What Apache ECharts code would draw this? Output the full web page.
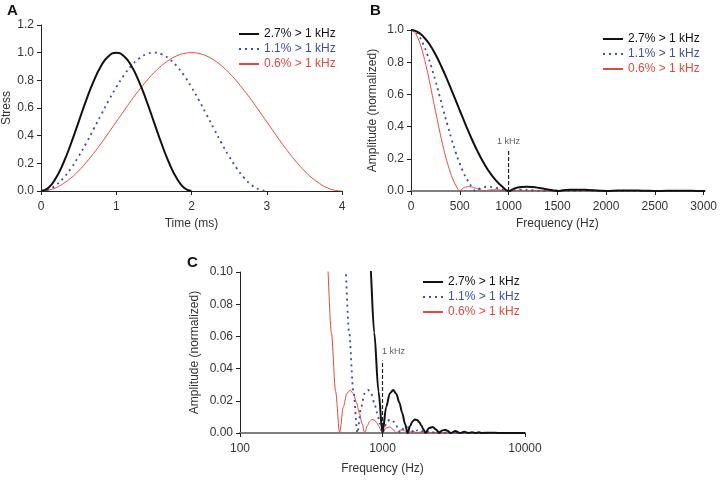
<!DOCTYPE html>
<html>
<head>
<meta charset="utf-8">
<script src="https://cdn.jsdelivr.net/npm/echarts@6/dist/echarts.min.js"></script>
<style>html,body{margin:0;padding:0;background:#fff}#c{width:720px;height:480px}</style>
</head>
<body>
<div id="c"></div>
<script>
// ---- Panel A: stress pulses ----
const timeMs = [0,0.1,0.2,0.3,0.4,0.5,0.6,0.7,0.8,0.9,1.0,1.1,1.2,1.3,1.4,1.5,1.6,1.7,1.8,1.9,2.0,
  2.1,2.2,2.3,2.4,2.5,2.6,2.7,2.8,2.9,3.0,3.1,3.2,3.3,3.4,3.5,3.6,3.7,3.8,3.9,4.0];
const stress27 = [0,0.024,0.095,0.206,0.345,0.5,0.655,0.794,0.905,0.976,1,0.976,0.905,0.794,0.655,0.5,0.345,0.206,0.095,0.024,0];
const stress11 = [0,0.011,0.043,0.095,0.165,0.25,0.345,0.448,0.552,0.655,0.75,0.835,0.905,0.957,0.989,1,
  0.989,0.957,0.905,0.835,0.75,0.655,0.552,0.448,0.345,0.25,0.165,0.095,0.043,0.011,0];
const stress06 = [0,0.006,0.024,0.055,0.095,0.146,0.206,0.273,0.345,0.422,0.5,0.578,0.655,0.727,0.794,0.854,0.905,0.946,0.976,0.994,1,
  0.994,0.976,0.946,0.905,0.854,0.794,0.727,0.655,0.578,0.5,0.422,0.345,0.273,0.206,0.146,0.095,0.055,0.024,0.006,0];

// ---- Panels B & C: normalized amplitude spectra ----
const specAmp = [1,0.990,0.960,0.913,0.849,0.772,0.686,0.594,0.500,0.408,0.320,0.240,0.170,0.110,0.0624,0.0258,0,
  0.0163,0.0246,0.0267,0.0243,0.0190,0.0125,0.0058,0,
  0.0044,0.0072,0.0084,0.0081,0.0067,0.0046,0.0022,0,
  0.0031,0.0037,0.0022,0,0.0016,0.0020,0.0012,0,
  0.0012,0,0.0008,0,0.0005,0,0.0004,0,
  0.0002,0,0];
const freq27 = [0,62.5,125,187.5,250,312.5,375,437.5,500,562.5,625,687.5,750,812.5,875,937.5,1000,
  1062.5,1125,1187.5,1250,1312.5,1375,1437.5,1500,1562.5,1625,1687.5,1750,1812.5,1875,1937.5,2000,
  2125,2250,2375,2500,2625,2750,2875,3000,
  3250,3500,3750,4000,4250,4500,4750,5000,
  5750,6500,10000];
const freq11 = [0,41.7,83.3,125,166.7,208.3,250,291.7,333.3,375,416.7,458.3,500,541.7,583.3,625,666.7,
  708.3,750,791.7,833.3,875,916.7,958.3,1000,1041.7,1083.3,1125,1166.7,1208.3,1250,1291.7,1333.3,
  1416.7,1500,1583.3,1666.7,1750,1833.3,1916.7,2000,
  2166.7,2333.3,2500,2666.7,2833.3,3000,3166.7,3333.3,
  3833.3,4333.3,10000];
const freq06 = [0,31.25,62.5,93.75,125,156.25,187.5,218.75,250,281.25,312.5,343.75,375,406.25,437.5,468.75,500,
  531.25,562.5,593.75,625,656.25,687.5,718.75,750,781.25,812.5,843.75,875,906.25,937.5,968.75,1000,
  1062.5,1125,1187.5,1250,1312.5,1375,1437.5,1500,
  1625,1750,1875,2000,2125,2250,2375,2500,
  2875,3250,10000];
const markerB = [[1000,0],[1000,0.25]];
const markerC = [[1000,0],[1000,0.045]];
const seriesNames = ['2.7% > 1 kHz','1.1% > 1 kHz','0.6% > 1 kHz'];
const yTicksA = [0,1.2,0.2];
const yTicksB = [0,1,0.2];
const yTicksC = [0,0.1,0.02];

const pairs = (xs, ys) => ys.map((y, i) => [xs[i], y]);
const positive = arr => arr.filter(p => p[0] > 0);

const COL = ['#111111', '#3d4fa1', '#e4493d'];
const LS = [
  {color: COL[0], width: 2, type: 'solid'},
  {color: COL[1], width: 1.8, type: [2, 4]},
  {color: COL[2], width: 1, type: 'solid'}
];
const FONT = 'Liberation Sans, Arial, sans-serif';
const TXT = '#333';

function legend(left, top) {
  return {
    orient: 'vertical', left: left, top: top, itemWidth: 20, itemHeight: 12, itemGap: 3, padding: 0,
    itemStyle: {opacity: 0, borderWidth: 0},
    textStyle: {fontSize: 12, fontFamily: FONT, lineHeight: 12},
    data: seriesNames.map((n, i) => ({name: n, textStyle: {color: COL[i]}})),
    selectedMode: false
  };
}

function valAxis(gi, min, max, interval, extra) {
  return Object.assign({
    gridIndex: gi, type: 'value', min: min, max: max, interval: interval,
    splitLine: {show: false},
    axisLine: {show: true, onZero: false, lineStyle: {color: '#222', width: 1}},
    axisTick: {show: true, inside: false, length: 4, lineStyle: {color: '#222'}},
    nameTextStyle: {color: TXT, fontSize: 12, fontFamily: FONT},
    nameLocation: 'middle'
  }, extra);
}
const lab = (margin, fmt) => ({color: TXT, fontSize: 12, fontFamily: FONT, margin: margin, formatter: fmt});
const grayAxis = {show: true, onZero: false, lineStyle: {color: '#7f7f7f', width: 2}};

const series = [];
const stressSets = [stress27, stress11, stress06];
stressSets.forEach((s, i) => series.push({
  name: seriesNames[i], type: 'line', xAxisIndex: 0, yAxisIndex: 0,
  data: pairs(timeMs, s), smooth: true, symbol: 'none', lineStyle: LS[i], itemStyle: {color: COL[i]}, z: 3 - i
}));
const freqSets = [freq27, freq11, freq06];
freqSets.forEach((f, i) => series.push({
  name: seriesNames[i], type: 'line', xAxisIndex: 1, yAxisIndex: 1,
  data: pairs(f, specAmp), smooth: 0.5, symbol: 'none', lineStyle: LS[i], itemStyle: {color: COL[i]}, z: 3 - i
}));
freqSets.forEach((f, i) => series.push({
  name: seriesNames[i], type: 'line', xAxisIndex: 2, yAxisIndex: 2,
  data: positive(pairs(f, specAmp)), smooth: 0.3, smoothMonotone: 'x', symbol: 'none', clip: true,
  lineStyle: LS[i], itemStyle: {color: COL[i]}, z: 3 - i
}));
[[markerB, 1], [markerC, 2]].forEach(([m, ai]) => {
  series.push({
    type: 'line', xAxisIndex: ai, yAxisIndex: ai, data: m, symbol: 'none', silent: true,
    lineStyle: {color: '#222', width: 1.2, type: [4, 2]}, z: 5
  });
  series.push({
    type: 'scatter', xAxisIndex: ai, yAxisIndex: ai, data: [m[1]], symbolSize: 1, silent: true,
    itemStyle: {color: 'rgba(0,0,0,0)'},
    label: {show: true, formatter: '1 kHz', position: 'top', distance: 4, fontSize: 9, fontFamily: FONT, color: '#333',
      offset: ai === 2 ? [11, 0] : [0, 0]},
    z: 6
  });
});

const plain = v => String(v);
const titleStyle = {fontSize: 15, fontWeight: 'bold', color: '#111', fontFamily: FONT};
const option = {
  animation: false,
  backgroundColor: '#fff',
  title: [
    {text: 'A', left: 7, top: 3, padding: 0, textStyle: titleStyle},
    {text: 'B', left: 370, top: 3, padding: 0, textStyle: titleStyle},
    {text: 'C', left: 187, top: 255, padding: 0, textStyle: titleStyle}
  ],
  legend: [legend(238, 28), legend(602, 33), legend(422, 276)],
  grid: [
    {left: 40, top: 25, width: 302, height: 166},
    {left: 411, top: 30, width: 296, height: 161},
    {left: 240, top: 272, width: 285, height: 161}
  ],
  xAxis: [
    valAxis(0, 0, 4, 1, {name: 'Time (ms)', nameGap: 27, axisLabel: lab(10, plain)}),
    valAxis(1, 0, 3000, 500, {name: 'Frequency (Hz)', nameGap: 27, axisLine: grayAxis, axisLabel: lab(10, plain)}),
    {gridIndex: 2, type: 'log', logBase: 10, min: 100, max: 10000, name: 'Frequency (Hz)', nameGap: 30,
      nameLocation: 'middle', nameTextStyle: {color: TXT, fontSize: 12, fontFamily: FONT},
      splitLine: {show: false}, minorTick: {show: false},
      axisLine: grayAxis,
      axisTick: {show: true, inside: false, length: 4, lineStyle: {color: '#222'}},
      axisLabel: lab(10, plain)}
  ],
  yAxis: [
    valAxis(0, yTicksA[0], yTicksA[1], yTicksA[2], {name: 'Stress', nameGap: 28, axisLabel: lab(7, v => v.toFixed(1))}),
    valAxis(1, yTicksB[0], yTicksB[1], yTicksB[2], {name: 'Amplitude (normalized)', nameGap: 32, axisLabel: lab(7, v => v.toFixed(1))}),
    valAxis(2, yTicksC[0], yTicksC[1], yTicksC[2], {name: 'Amplitude (normalized)', nameGap: 39, axisLabel: lab(7, v => v.toFixed(2))})
  ],
  series: series
};
const chart = echarts.init(document.getElementById('c'), null, {renderer: 'canvas'});
chart.setOption(option);
</script>
</body>
</html>
